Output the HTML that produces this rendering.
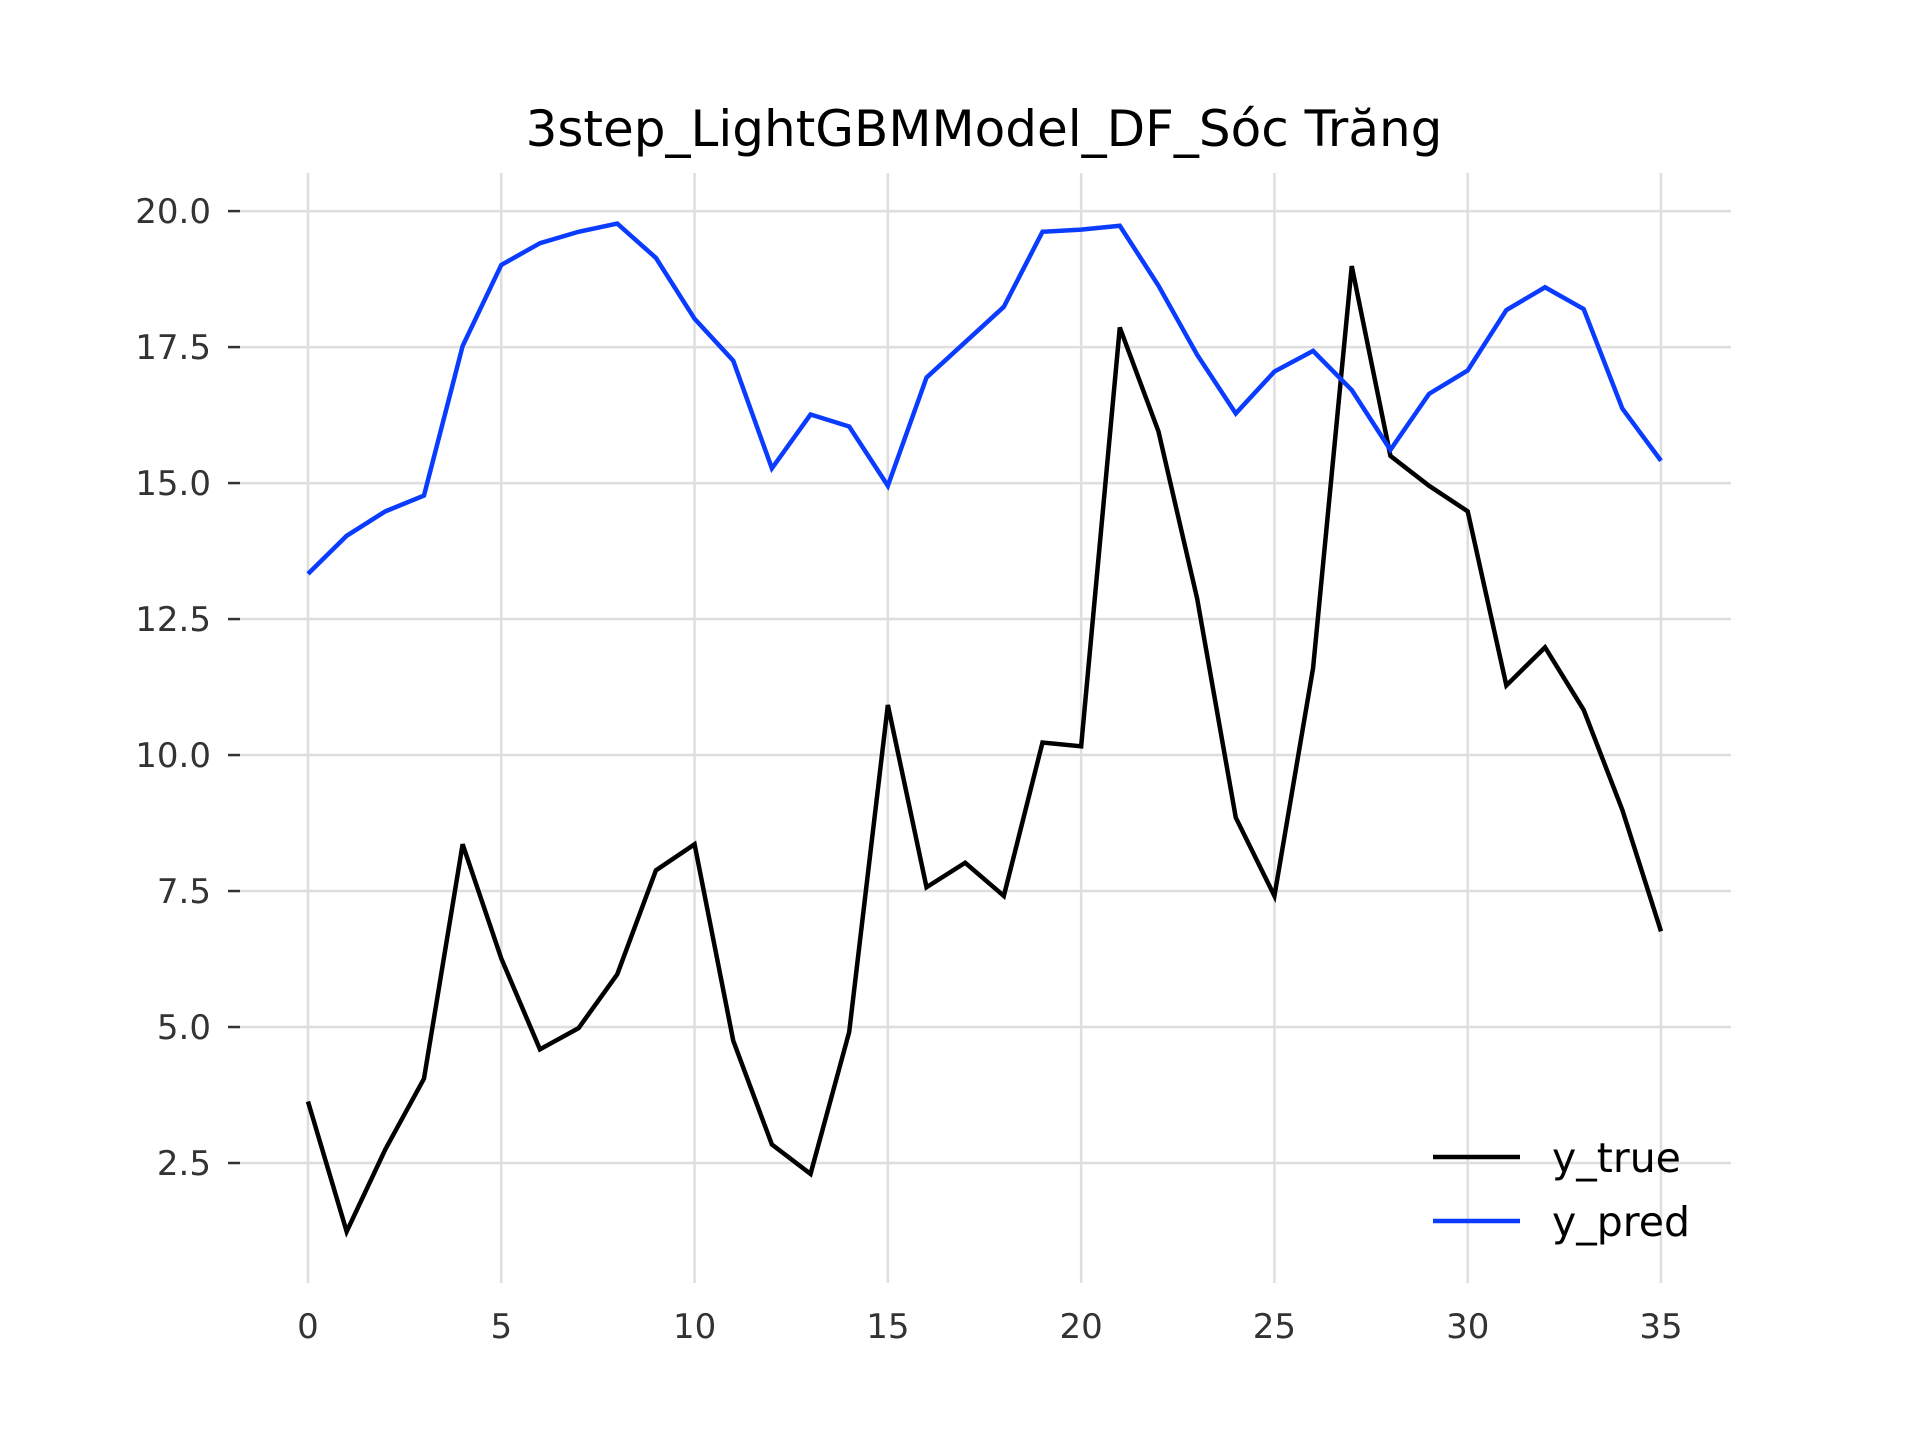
<!DOCTYPE html>
<html><head><meta charset="utf-8"><style>
html,body{margin:0;padding:0;background:#fff}
svg{display:block}
text{font-family:"DejaVu Sans","Liberation Sans",sans-serif}
</style></head><body>
<svg id="chart" width="1920" height="1440" viewBox="0 0 1920 1440" xmlns="http://www.w3.org/2000/svg">
<rect width="1920" height="1440" fill="#fff"/>
<text x="984" y="146" font-size="50" text-anchor="middle" fill="#000">3step_LightGBMModel_DF_Sóc Trăng</text>
<g id="grid"></g>
<g id="ticks"></g>
<g id="series"></g>
<g>
<line x1="1433" y1="1157" x2="1520" y2="1157" stroke="#000" stroke-width="4.5"/>
<text x="1552" y="1172" font-size="41" fill="#000">y_true</text>
<line x1="1433" y1="1221" x2="1520" y2="1221" stroke="#0a3cff" stroke-width="4.5"/>
<text x="1552" y="1236" font-size="41" fill="#000">y_pred</text>
</g>
</svg>
<script>
const xTicks=[0,5,10,15,20,25,30,35];
const yTicks=[2.5,5.0,7.5,10.0,12.5,15.0,17.5,20.0];
const yTrue=[3.63,1.24,2.75,4.05,8.36,6.26,4.59,4.98,5.97,7.88,8.36,4.75,2.84,2.30,4.91,10.92,7.57,8.02,7.41,10.23,10.16,17.86,15.95,12.88,8.85,7.41,11.60,18.99,15.50,14.95,14.48,11.28,11.98,10.83,8.99,6.76];
const yPred=[13.33,14.03,14.48,14.77,17.52,19.01,19.41,19.62,19.77,19.14,18.02,17.25,15.27,16.26,16.04,14.95,16.94,17.59,18.24,19.62,19.66,19.73,18.63,17.36,16.28,17.05,17.43,16.71,15.61,16.64,17.07,18.18,18.60,18.20,16.37,15.41];
const NS='http://www.w3.org/2000/svg';
function X(v){return 308+(1661-308)*v/35;}
function Y(v){return 211.1+(20-v)*(1163-211.1)/17.5;}
const grid=document.getElementById('grid'),ticks=document.getElementById('ticks'),series=document.getElementById('series');
function mk(tag,attrs,parent){const e=document.createElementNS(NS,tag);for(const k in attrs)e.setAttribute(k,attrs[k]);parent.appendChild(e);return e;}
xTicks.forEach(t=>{
 const l=mk('line',{x1:X(t),x2:X(t),y1:173,y2:1283,stroke:'#dedede','stroke-width':2.5},grid);
 
 
 const tx=mk('text',{x:X(t),y:1338,'font-size':34,'text-anchor':'middle',fill:'#333'},ticks);
 tx.textContent=String(t);
 
 
});
yTicks.forEach(t=>{
 const l=mk('line',{x1:240,x2:1731,y1:Y(t),y2:Y(t),stroke:'#dedede','stroke-width':2.5},grid);
 
 
 const tk=mk('line',{x1:228,x2:240,y1:Y(t),y2:Y(t),stroke:'#333','stroke-width':2.5},ticks);
 
 
 const tx=mk('text',{x:211,y:Y(t)+12,'font-size':34,'text-anchor':'end',fill:'#333'},ticks);
 tx.textContent=t.toFixed(1);
 
 
});
function line(data,color,name){
 const p=mk('polyline',{points:data.map((v,i)=>X(i)+','+Y(v)).join(' '),fill:'none',stroke:color,'stroke-width':4.5,'stroke-linejoin':'miter'},series);
 
 
}
line(yTrue,'#000','y-true-line');
line(yPred,'#0a3cff','y-pred-line');
</script>
</body></html>
